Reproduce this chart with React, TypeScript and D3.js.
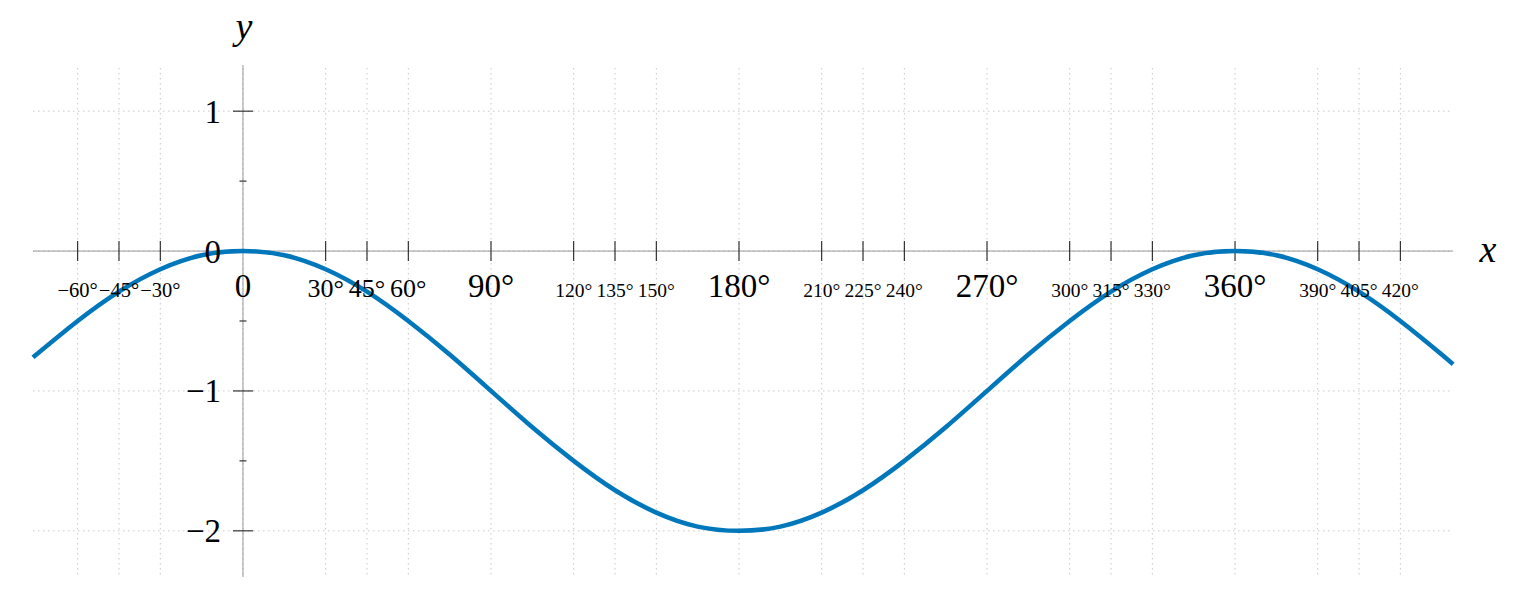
import React from "react";
import * as d3 from "d3";

// Curve samples (degrees, y)
const curveX = [-76.2, -60, -45, -30, -15, 0, 15, 30, 45, 60, 75, 90, 105, 120, 135, 150, 165, 180, 195, 210, 225, 240, 255, 270, 285, 300, 315, 330, 345, 360, 375, 390, 405, 420, 435, 439.1];
const curveY = [-0.76, -0.5, -0.29, -0.13, -0.03, 0, -0.03, -0.13, -0.29, -0.5, -0.74, -1.0, -1.26, -1.5, -1.71, -1.87, -1.97, -2.0, -1.97, -1.87, -1.71, -1.5, -1.26, -1.0, -0.74, -0.5, -0.29, -0.13, -0.03, 0, -0.03, -0.13, -0.29, -0.5, -0.74, -0.81];

// x ticks and labels
const bigTicks = [0, 90, 180, 270, 360];
const bigLabels = ["0", "90°", "180°", "270°", "360°"];
const midTicks = [30, 45, 60];
const midLabels = ["30°", "45°", "60°"];
const negTicks = [-60, -45, -30];
const negLabels = ["−60°", "−45°", "−30°"];
const smallTicks = [120, 135, 150, 210, 225, 240, 300, 315, 330, 390, 405, 420];
const smallLabels = ["120°", "135°", "150°", "210°", "225°", "240°", "300°", "315°", "330°", "390°", "405°", "420°"];

// y ticks
const yMajor = [1, 0, -1, -2];
const yLabels = ["1", "0", "−1", "−2"];
const yMinor = [0.5, -0.5, -1.5];

const xDomain = [-76.2, 439.1];
const yDomain = [-2.33, 1.33];

const FONT = "'Liberation Serif', 'Times New Roman', serif";

export default function App() {
  const x = d3.scaleLinear().domain(xDomain).range([33, 1453]);
  const y = d3.scaleLinear().domain(yDomain).range([577, 65]);

  const pts: [number, number][] = curveX.map((d, i) => [d, curveY[i]]);
  const line = d3
    .line<[number, number]>()
    .x((d) => x(d[0]))
    .y((d) => y(d[1]))
    .curve(d3.curveNatural);

  const allXTicks = [...negTicks, ...bigTicks, ...midTicks, ...smallTicks];
  const gridColor = "#c8c8c8";
  const dash = "1.5 3.5";
  const x0 = x(0);
  const y0 = y(0);
  const baseLine = 297;

  const labelGroups: { ticks: number[]; labels: string[]; size: number }[] = [
    { ticks: bigTicks, labels: bigLabels, size: 33 },
    { ticks: midTicks, labels: midLabels, size: 26 },
    { ticks: negTicks, labels: negLabels, size: 20.5 },
    { ticks: smallTicks, labels: smallLabels, size: 19.5 },
  ];

  return (
    <svg
      width={1536}
      height={610}
      style={{ position: "absolute", left: 0, top: 0, display: "block", background: "#fff" }}
    >
      {/* grid */}
      <g>
        {allXTicks.map((t) => (
          <line
            key={"gx" + t}
            x1={x(t)}
            x2={x(t)}
            y1={y(yDomain[1]) + 3}
            y2={y(yDomain[0]) + 1}
            stroke={gridColor}
            strokeWidth={1}
            strokeDasharray={dash}
          />
        ))}
        {yMajor.map((t) => (
          <line
            key={"gy" + t}
            x1={x(xDomain[0])}
            x2={x(xDomain[1])}
            y1={y(t)}
            y2={y(t)}
            stroke={gridColor}
            strokeWidth={1}
            strokeDasharray={dash}
          />
        ))}
      </g>

      {/* axes */}
      <line x1={x(xDomain[0])} x2={x(xDomain[1])} y1={y0} y2={y0} stroke="#9a9a9a" strokeWidth={1} />
      <line x1={x0} x2={x0} y1={y(yDomain[1])} y2={y(yDomain[0])} stroke="#9a9a9a" strokeWidth={1} />

      {/* x ticks */}
      {allXTicks
        .filter((t) => t !== 0)
        .map((t) => (
          <line key={"tx" + t} x1={x(t)} x2={x(t)} y1={y0 - 10} y2={y0 + 10} stroke="#222" strokeWidth={1.1} />
        ))}

      {/* y ticks */}
      {yMajor
        .filter((t) => t !== 0)
        .map((t) => (
          <line key={"ty" + t} x1={x0 - 10} x2={x0 + 10} y1={y(t)} y2={y(t)} stroke="#222" strokeWidth={1.1} />
        ))}
      {yMinor.map((t) => (
        <line key={"tym" + t} x1={x0 - 3.5} x2={x0 + 3.5} y1={y(t)} y2={y(t)} stroke="#222" strokeWidth={1.1} />
      ))}

      {/* curve */}
      <path d={line(pts) || ""} fill="none" stroke="#0077bb" strokeWidth={4.5} strokeLinejoin="round" />

      {/* x labels */}
      {labelGroups.map((g, gi) =>
        g.ticks.map((t, i) => (
          <text
            key={"lx" + gi + "_" + t}
            x={x(t)}
            y={baseLine}
            textAnchor="middle"
            fontFamily={FONT}
            fontSize={g.size}
            fill="#000"
          >
            {g.labels[i]}
          </text>
        ))
      )}

      {/* y labels */}
      {yMajor.map((t, i) => (
        <text
          key={"ly" + t}
          x={221}
          y={y(t) + 11.5}
          textAnchor="end"
          fontFamily={FONT}
          fontSize={33}
          fill="#000"
        >
          {yLabels[i]}
        </text>
      ))}

      {/* axis names */}
      <text x={1488} y={262} textAnchor="middle" fontFamily={FONT} fontStyle="italic" fontSize={38} fill="#000">
        x
      </text>
      <text x={244} y={39} textAnchor="middle" fontFamily={FONT} fontStyle="italic" fontSize={38} fill="#000">
        y
      </text>
    </svg>
  );
}
